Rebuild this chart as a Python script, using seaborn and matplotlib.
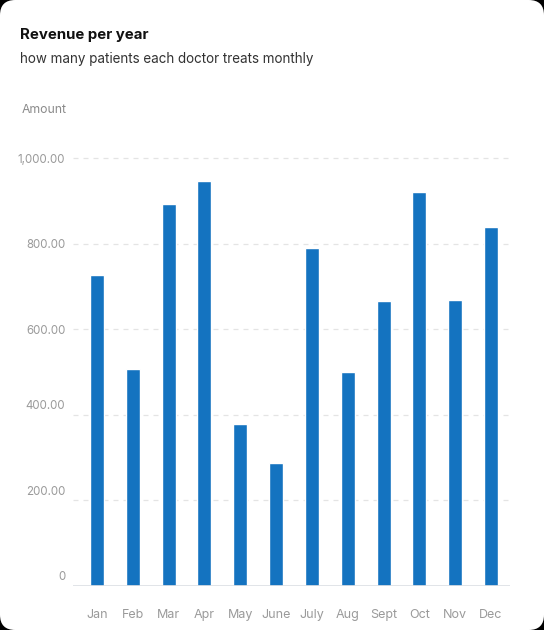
import matplotlib
matplotlib.use("Agg")
import matplotlib.pyplot as plt
import matplotlib.transforms as mtransforms
from matplotlib.patches import FancyBboxPatch
import seaborn as sns
import pandas as pd

# data
months = ["Jan", "Feb", "Mar", "Apr", "May", "June", "July", "Aug", "Sept", "Oct", "Nov", "Dec"]
amounts = [726, 506, 894, 946, 378, 288, 791, 501, 665, 922, 669, 838]
y_ticks = [0, 200, 400, 600, 800, 1000]
y_labels = ["0", "200.00", "400.00", "600.00", "800.00", "1,000.00"]

df = pd.DataFrame({"month": months, "amount": amounts})

sns.set_theme(style="white")
plt.rcParams["font.family"] = ["Inter", "DejaVu Sans"]

W, H = 544, 630
fig = plt.figure(figsize=(W / 100, H / 100), dpi=100)
fig.patch.set_facecolor("#000000")

# white rounded card behind everything
card = FancyBboxPatch((0.0, 0.0), 1.0, 1.0, boxstyle="round,pad=0,rounding_size=0.028",
                      transform=fig.transFigure, facecolor="white", edgecolor="none",
                      mutation_aspect=W / H, zorder=-5)
fig.patches.append(card)

ax = fig.add_axes([73 / W, 1 - 585.7 / H, (510 - 73) / W, (585.7 - 158.2) / H])
ax.set_facecolor("none")
ax.set_zorder(2)

sns.barplot(data=df, x="month", y="amount", color="#1473c0", width=0.39,
            saturation=1, ax=ax, zorder=3)

ax.set_xlim(-0.67, 11.53)
ax.set_ylim(0, 1000)
ax.set_yticks(y_ticks)
ax.set_yticklabels(y_labels)
ax.set_xlabel("")
ax.set_ylabel("")

for s in ax.spines.values():
    s.set_visible(False)

# dashed gridlines and solid baseline
for v in y_ticks[1:]:
    ax.axhline(v, color="#e4e4e4", lw=0.9, ls=(0, (4, 4)), zorder=1, clip_on=False)
ax.axhline(0, color="#dcdfe4", lw=1.2, zorder=4)

ax.tick_params(axis="y", length=0, pad=5.5, labelsize=8.3, labelcolor="#9a9a9a")
ax.tick_params(axis="x", length=0, pad=17, labelsize=9, labelcolor="#9a9a9a")

# lower y labels sit a bit above their gridline in the reference
for lab in ax.get_yticklabels()[:3]:
    lab.set_transform(lab.get_transform() + mtransforms.ScaledTranslation(0, 10 / 100, fig.dpi_scale_trans))

fig.text(20 / W, 1 - 35 / H, "Revenue per year", fontsize=10.8, fontweight="bold",
         color="#111111", va="center", ha="left")
fig.text(20 / W, 1 - 59 / H, "how many patients each doctor treats monthly", fontsize=9.7,
         color="#333333", va="center", ha="left")
fig.text(22 / W, 1 - 110 / H, "Amount", fontsize=8.8, color="#8a8a8a", va="center", ha="left")

fig.savefig("out.png", dpi=100, facecolor=fig.get_facecolor())
